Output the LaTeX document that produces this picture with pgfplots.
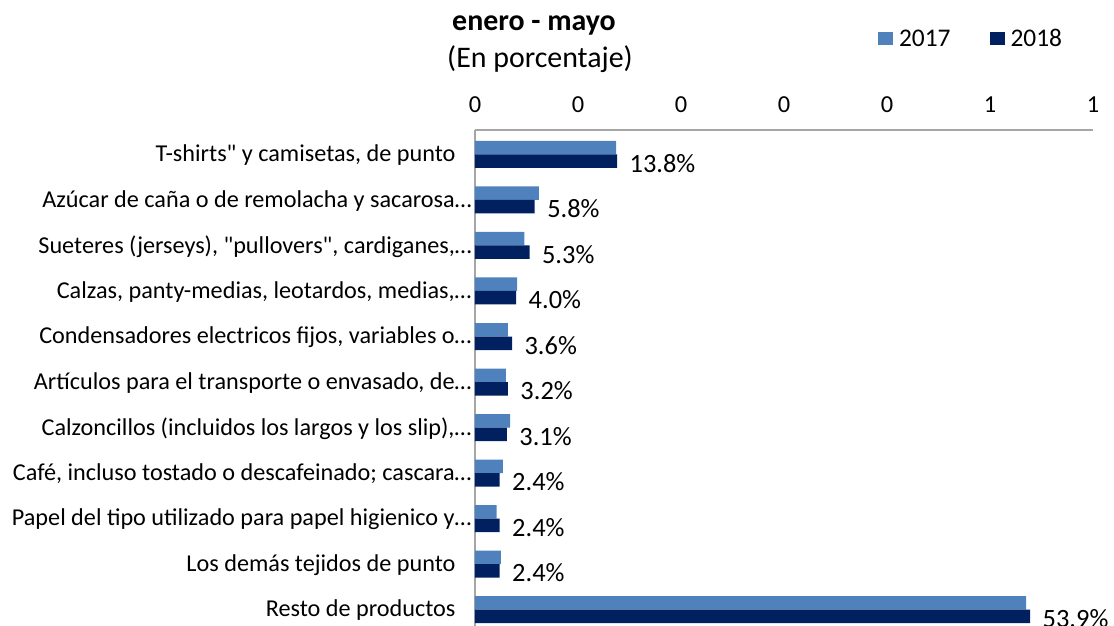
\documentclass[border=0pt]{standalone}
\usepackage{pgfplots}
\pgfplotsset{compat=1.18}
\usepackage{pgfplotstable}
\usepackage{fontspec}
\setmainfont{Carlito}[Ligatures=TeXOff]
\definecolor{c17}{HTML}{4F81BD}
\definecolor{c18}{HTML}{002060}
\definecolor{axgray}{HTML}{A6A6A6}
\pgfplotstableread{
idx v17 v18 pct
10 0.137 0.138 13.8
9 0.062 0.058 5.8
8 0.048 0.053 5.3
7 0.041 0.040 4.0
6 0.032 0.036 3.6
5 0.030 0.032 3.2
4 0.034 0.031 3.1
3 0.027 0.024 2.4
2 0.021 0.024 2.4
1 0.025 0.024 2.4
0 0.535 0.539 53.9
}\data
\begin{document}
\begin{tikzpicture}[font=\fontsize{24.3}{28}\selectfont]
\begin{axis}[
  at={(475bp,-130bp)}, anchor=north west,
  scale only axis, width=618bp, height=504bp,
  xmin=0, xmax=0.6, ymin=-0.538, ymax=10.538,
  xbar, bar width=13.5bp,
  axis x line*=top, axis y line*=left,
  axis line style={axgray, line width=1.5bp, -},
  major tick length=0pt,
  xtick={0,0.1,0.2,0.3,0.4,0.5,0.6},
  xticklabels={0,0,0,0,0,1,1},
  xticklabel style={yshift=14bp, font=\fontsize{24.5}{28}\selectfont},
  ytick={0,1,2,3,4,5,6,7,8,9,10},
  yticklabels={
    {Resto de productos\hspace*{16bp}},
    {Los demás tejidos de punto\hspace*{16bp}},
    {Papel del tipo utilizado para papel higienico y…},
    {Café, incluso tostado o descafeinado; cascara…},
    {Calzoncillos (incluidos los largos y los slip),…},
    {Artículos para el transporte o envasado, de…},
    {Condensadores electricos fijos, variables o…},
    {Calzas, panty-medias, leotardos, medias,…},
    {Sueteres (jerseys), "pullovers", cardiganes,…},
    {Azúcar de caña o de remolacha y sacarosa…},
    {T-shirts" y camisetas, de punto\hspace*{16bp}}},
  yticklabel style={anchor=east, yshift=-1bp},
  legend style={draw=none, fill=none, inner sep=0pt, outer sep=0pt,
    at={(0.6521,1.1815)}, anchor=west, legend columns=2,
    font=\fontsize{25.5}{28}\selectfont,
    nodes={inner sep=5bp},
    /tikz/every even column/.append style={column sep=34bp}},
]
\addplot[fill=c17, draw=none, bar shift=6.75bp,
  legend image code/.code={\fill[c17] (0bp,-6.5bp) rectangle (15bp,6.5bp);}]
  table[x=v17, y=idx]{\data};
\addlegendentry{\hspace*{1bp}2017}
\addplot[fill=c18, draw=none, bar shift=-6.75bp,
  legend image code/.code={\fill[c18] (0bp,-6.5bp) rectangle (15bp,6.5bp);},
  point meta=\thisrow{pct},
  nodes near coords={\pgfmathprintnumber[fixed, fixed zerofill, precision=1, assume math mode=true]{\pgfplotspointmeta}\%},
  every node near coord/.append style={anchor=west, xshift=9bp, yshift=-2bp, text=black, font=\fontsize{26.5}{30}\selectfont}]
  table[x=v18, y=idx]{\data};
\addlegendentry{\hspace*{1bp}2018}
\end{axis}
\node[font=\fontsize{30}{34}\selectfont\bfseries] at (534bp,-25bp) {enero - mayo};
\node[font=\fontsize{30}{34}\selectfont] at (540bp,-59bp) {(En porcentaje)};
\pgfresetboundingbox
\useasboundingbox (0,0) rectangle (1114bp,-626bp);
\end{tikzpicture}
\end{document}
